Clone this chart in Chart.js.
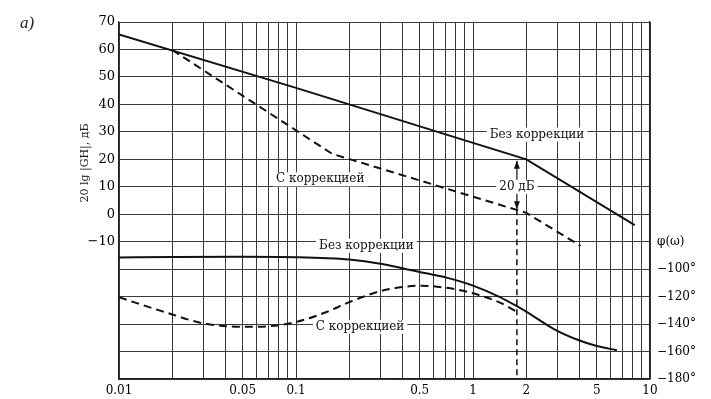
<!DOCTYPE html>
<html>
<head>
<meta charset="utf-8">
<script src="https://cdn.jsdelivr.net/npm/chart.js@4/dist/chart.umd.min.js"></script>
<style>
  html, body { margin: 0; padding: 0; background: #fff; }
  canvas { display: block; }
</style>
</head>
<body>
<canvas id="c" width="711" height="399"></canvas>
<script>
// ---- data ----
const xGridValues = [0.01,0.02,0.03,0.04,0.05,0.06,0.07,0.08,0.09,
                     0.1,0.2,0.3,0.4,0.5,0.6,0.7,0.8,0.9,
                     1,2,3,4,5,6,7,8,9,10];
const xLabelValues = [0.01, 0.05, 0.1, 0.5, 1, 2, 5, 10];
const xLabelTexts  = ['0.01', '0.05', '0.1', '0.5', '1', '2', '5', '10'];

const yLeftLabelValues = [70, 60, 50, 40, 30, 20, 10, 0, -10];
const yLeftLabelTexts  = ['70', '60', '50', '40', '30', '20', '10', '0', '\u221210'];
const yRightLabelValues = [-80, -100, -120, -140, -160, -180];
const yRightLabelTexts  = ['\u03C6(\u03C9)', '\u2212100\u00B0', '\u2212120\u00B0', '\u2212140\u00B0', '\u2212160\u00B0', '\u2212180\u00B0'];

// magnitude, dB
const magNoCorrFreq = [0.01, 0.1, 1, 2, 8.2];
const magNoCorr     = [65.5, 46, 26, 20, -4];
const magCorrFreq   = [0.02, 0.16, 2, 4.05];
const magCorr       = [59.8, 22, 0.5, -11.5];

// phase, degrees
const phNoCorrFreq = [0.01, 0.02, 0.05, 0.1, 0.2, 0.3, 0.42, 0.5, 0.7, 1, 1.4, 1.77, 2, 2.9, 4, 5, 6.5];
const phNoCorr     = [-91.5, -91.2, -91, -91.3, -93, -96, -100, -102, -106, -112, -120, -127, -131, -144, -152, -156, -159];
const phCorrFreq   = [0.01, 0.02, 0.03, 0.05, 0.07, 0.1, 0.15, 0.2, 0.3, 0.4, 0.5, 0.7, 0.96, 1.4, 1.77];
const phCorr       = [-120.5, -133, -139.5, -142, -141.6, -138.5, -131, -124, -116, -113, -112, -113.5, -117, -124, -131];

// 20 dB margin marker
const marginFreq = 1.77;
const marginTop = 19.5;
const marginBottom = 1.8;

// text labels
const labelTexts = ['Без коррекции', 'С коррекцией', '20 дБ', 'Без коррекции', 'С коррекцией'];
const labelFreqs = [2.3, 0.137, 1.77, 0.25, 0.23];
const labelVals  = [29, 12.7, 10, -83, -142];
const labelAxes  = ['y', 'y', 'y', 'y2', 'y2'];

const yTitle = '20 lg |GH|, дБ';
const panelTag = 'a)';

// ---- build ----
const zip = (xs, ys) => xs.map((x, i) => ({ x: x, y: ys[i] }));
const SERIF = '"DejaVu Serif", "Liberation Serif", serif';

const annotate = {
  id: 'annotate',
  afterDatasetsDraw(chart) {
    const ctx = chart.ctx;
    const xs = chart.scales.x;
    ctx.save();
    // arrowheads
    const ax = xs.getPixelForValue(marginFreq);
    const yT = chart.scales.y.getPixelForValue(marginTop);
    const yB = chart.scales.y.getPixelForValue(marginBottom);
    ctx.fillStyle = '#111';
    ctx.beginPath();
    ctx.moveTo(ax, yT); ctx.lineTo(ax - 3, yT + 8); ctx.lineTo(ax + 3, yT + 8); ctx.closePath(); ctx.fill();
    ctx.beginPath();
    ctx.moveTo(ax, yB); ctx.lineTo(ax - 3, yB - 8); ctx.lineTo(ax + 3, yB - 8); ctx.closePath(); ctx.fill();

    // labels
    ctx.font = '12px ' + SERIF;
    ctx.textAlign = 'center';
    ctx.textBaseline = 'middle';
    labelTexts.forEach((t, i) => {
      const px = xs.getPixelForValue(labelFreqs[i]);
      const py = chart.scales[labelAxes[i]].getPixelForValue(labelVals[i]);
      const w = ctx.measureText(t).width;
      ctx.fillStyle = '#fff';
      ctx.fillRect(px - w / 2 - 3, py - 7, w + 6, 14);
      ctx.fillStyle = '#111';
      ctx.fillText(t, px, py);
    });

    // axis title
    ctx.save();
    ctx.translate(85, 163);
    ctx.rotate(-Math.PI / 2);
    ctx.font = '11px ' + SERIF;
    ctx.fillStyle = '#222';
    ctx.fillText(yTitle, 0, 0);
    ctx.restore();

    // panel tag
    ctx.font = 'italic 17px "Liberation Serif", serif';
    ctx.fillStyle = '#222';
    ctx.fillText(panelTag, 27, 24);
    ctx.restore();
  }
};

new Chart(document.getElementById('c'), {
  type: 'line',
  data: {
    datasets: [
      { data: zip(magNoCorrFreq, magNoCorr), yAxisID: 'y', borderColor: '#111', borderWidth: 2, tension: 0 },
      { data: zip(magCorrFreq, magCorr), yAxisID: 'y', borderColor: '#111', borderWidth: 2, borderDash: [8, 5], tension: 0 },
      { data: zip(phNoCorrFreq, phNoCorr), yAxisID: 'y2', borderColor: '#111', borderWidth: 2, cubicInterpolationMode: 'monotone' },
      { data: zip(phCorrFreq, phCorr), yAxisID: 'y2', borderColor: '#111', borderWidth: 2, borderDash: [8, 5], cubicInterpolationMode: 'monotone' },
      { data: [{ x: marginFreq, y: marginTop }, { x: marginFreq, y: marginBottom }], yAxisID: 'y', borderColor: '#111', borderWidth: 1.2, tension: 0 },
      { data: [{ x: marginFreq, y: marginBottom }, { x: marginFreq, y: -60 }], yAxisID: 'y', borderColor: '#111', borderWidth: 1.5, borderDash: [6, 4], tension: 0 }
    ]
  },
  options: {
    responsive: false,
    animation: false,
    devicePixelRatio: 1,
    layout: { padding: { top: 22, left: 0, right: 0, bottom: 0 } },
    elements: { point: { radius: 0 } },
    plugins: { legend: { display: false }, tooltip: { enabled: false } },
    scales: {
      x: {
        type: 'logarithmic',
        min: 0.01, max: 10,
        afterBuildTicks: (scale) => { scale.ticks = xGridValues.map(v => ({ value: v })); },
        afterFit: (scale) => { scale.height = 20; },
        grid: { color: '#3a3a3a', lineWidth: 1, drawTicks: false },
        border: { color: '#222', width: 1.2 },
        ticks: {
          autoSkip: false, maxRotation: 0, padding: 5,
          color: '#000', font: { family: SERIF, size: 12 },
          callback: (v) => { const i = xLabelValues.indexOf(v); return i >= 0 ? xLabelTexts[i] : ''; }
        }
      },
      y: {
        position: 'left',
        min: -60, max: 70,
        afterFit: (scale) => { scale.width = 119; },
        grid: { color: '#3a3a3a', lineWidth: 1, drawTicks: false },
        border: { color: '#222', width: 1.2 },
        ticks: {
          stepSize: 10, padding: 4, autoSkip: false,
          color: '#000', font: { family: SERIF, size: 13 },
          callback: (v) => { const i = yLeftLabelValues.indexOf(v); return i >= 0 ? yLeftLabelTexts[i] : ''; }
        }
      },
      y2: {
        position: 'right',
        min: -180, max: 80,
        afterFit: (scale) => { scale.width = 61; },
        grid: { display: false, drawTicks: false },
        border: { color: '#222', width: 1.2 },
        ticks: {
          stepSize: 20, padding: 7, autoSkip: false,
          color: '#000', font: { family: SERIF, size: 12 },
          callback: (v) => { const i = yRightLabelValues.indexOf(v); return i >= 0 ? yRightLabelTexts[i] : ''; }
        }
      }
    }
  },
  plugins: [annotate]
});
</script>
</body>
</html>
